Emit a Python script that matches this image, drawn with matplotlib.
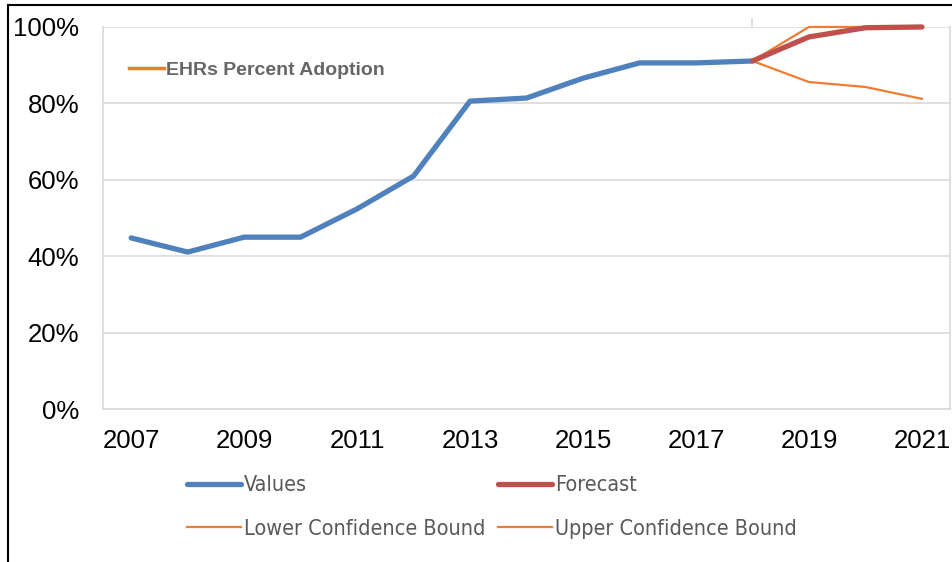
import matplotlib.pyplot as plt
from matplotlib.lines import Line2D
from matplotlib.ticker import FuncFormatter, MultipleLocator

years = [2007, 2008, 2009, 2010, 2011, 2012, 2013, 2014, 2015, 2016, 2017, 2018]
values = [0.448, 0.411, 0.450, 0.450, 0.524, 0.610, 0.806, 0.814, 0.866, 0.906, 0.906, 0.911]

fc_years = [2018, 2019, 2020, 2021]
forecast = [0.911, 0.974, 0.998, 1.000]
lower = [0.911, 0.856, 0.843, 0.812]
upper = [0.911, 1.000, 1.000, 1.000]

x_ticks = [2007, 2009, 2011, 2013, 2015, 2017, 2019, 2021]

blue = "#4F81BD"
red = "#C0504D"
orange = "#ED7D31"
grid = "#D9D9D9"

fig = plt.figure(figsize=(9.53, 5.62), dpi=100)
ax = fig.add_axes([0.108, 0.272, 0.889, 0.680])

l_val, = ax.plot(years, values, color=blue, lw=3.8, solid_capstyle="round", label="Values")
l_low, = ax.plot(fc_years, lower, color=orange, lw=1.6, label="Lower Confidence Bound", clip_on=False)
l_up, = ax.plot(fc_years, upper, color=orange, lw=1.6, label="Upper Confidence Bound", clip_on=False)
l_fc, = ax.plot(fc_years, forecast, color=red, lw=3.8, solid_capstyle="round", label="Forecast", clip_on=False)

ax.set_xlim(2006.5, 2021.5)
ax.set_ylim(0, 1.0)
ax.yaxis.set_major_locator(MultipleLocator(0.2))
ax.yaxis.set_major_formatter(FuncFormatter(lambda v, p: f"{v*100:.0f}%"))
ax.set_xticks(x_ticks)
ax.grid(axis="y", color=grid, lw=1.2)
ax.set_axisbelow(True)
ax.tick_params(length=0, labelsize=18.5, pad=17)
ax.tick_params(axis="x", pad=14)
for lab in ax.get_xticklabels() + ax.get_yticklabels():
    lab.set_family("Liberation Sans")
for s in ["left", "bottom", "right"]:
    ax.spines[s].set_color(grid)
    ax.spines[s].set_linewidth(1.2)
ax.spines["top"].set_visible(False)

# small mark above the plot at the last observed year
ax.plot([2018, 2018], [1.0, 1.02], color=grid, lw=1.2, clip_on=False)

# series title shown inside the plot
title_leg = ax.legend([Line2D([], [], color=orange, lw=2.5)], ["EHRs Percent Adoption"],
                      loc="upper left", bbox_to_anchor=(0.01, 0.955), frameon=False,
                      handlelength=1.8, handletextpad=0.1,
                      prop={"family": "Liberation Sans", "weight": "bold", "size": 14})
title_leg.get_texts()[0].set_color("#666666")

fig.legend([l_val, l_low, l_fc, l_up],
           ["Values", "Lower Confidence Bound", "Forecast", "Upper Confidence Bound"],
           ncol=2, loc="upper left", bbox_to_anchor=(0.176, 0.189), frameon=False,
           handlelength=2.5, handletextpad=0.15, columnspacing=0.6, labelspacing=1.1,
           prop={"family": "DejaVu Sans", "stretch": "condensed", "size": 15.5},
           labelcolor="#595959")

# outer frame edges
fig.add_artist(Line2D([0.0085, 1.0], [0.991, 0.991], color="black", lw=1.5, transform=fig.transFigure))
fig.add_artist(Line2D([0.0085, 0.0085], [0.0, 0.991], color="black", lw=1.5, transform=fig.transFigure))

fig.savefig("out.png", dpi=100)
